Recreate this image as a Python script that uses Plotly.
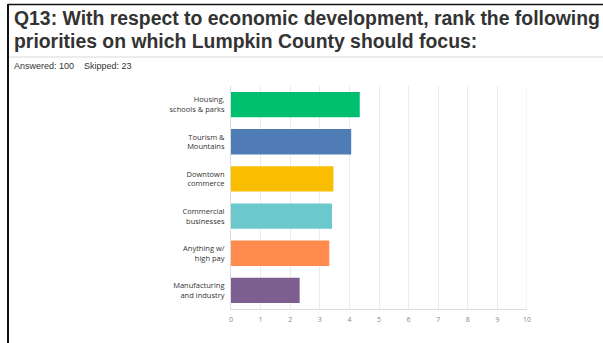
import plotly.graph_objects as go

# Survey results: average ranking score per priority
categories = [
    "Housing,<br>schools & parks",
    "Tourism &<br>Mountains",
    "Downtown<br>commerce",
    "Commercial<br>businesses",
    "Anything w/<br>high pay",
    "Manufacturing<br>and industry",
]
scores = [4.35, 4.06, 3.46, 3.41, 3.32, 2.32]
bar_colors = ["#00BF6F", "#507CB6", "#F9BE00", "#6BC8CD", "#FF8B4F", "#7D5E90"]
x_ticks = list(range(0, 11))

W, H = 603, 343
L, R, T, B = 231, 76, 86, 34
pw, ph = W - L - R, H - T - B


def px_x(px):
    return (px - L) / pw


def px_y(py):
    return (H - B - py) / ph


fig = go.Figure(
    go.Bar(
        x=scores,
        y=categories,
        orientation="h",
        marker=dict(color=bar_colors, line=dict(width=0)),
        hoverinfo="skip",
    )
)

fig.update_layout(
    width=W,
    height=H,
    margin=dict(l=L, r=R, t=T, b=B),
    paper_bgcolor="white",
    plot_bgcolor="white",
    bargap=0.32,
    showlegend=False,
    xaxis=dict(
        range=[0, 10],
        tickvals=x_ticks,
        showgrid=True,
        gridcolor="#ebebeb",
        gridwidth=1,
        zeroline=False,
        showline=True,
        linecolor="#dcdcdc",
        linewidth=1,
        ticks="",
        ticklabelstandoff=4,
        tickfont=dict(family="Open Sans", size=7, color="#888888"),
        fixedrange=True,
    ),
    yaxis=dict(
        categoryorder="array",
        categoryarray=categories[::-1],
        showgrid=False,
        zeroline=False,
        showline=True,
        linecolor="#dcdcdc",
        linewidth=1,
        ticks="",
        ticklabelstandoff=4,
        tickfont=dict(family="Open Sans", size=7.5, color="#333333"),
        fixedrange=True,
    ),
    annotations=[
        dict(
            text="<b>Q13: With respect to economic development, rank the following</b>",
            xref="paper", yref="paper",
            x=px_x(12), y=px_y(18),
            xanchor="left", yanchor="middle",
            showarrow=False,
            font=dict(family="Liberation Sans", size=19.4, color="#333333"),
        ),
        dict(
            text="<b>priorities on which Lumpkin County should focus:</b>",
            xref="paper", yref="paper",
            x=px_x(12), y=px_y(41),
            xanchor="left", yanchor="middle",
            showarrow=False,
            font=dict(family="Liberation Sans", size=19.4, color="#333333"),
        ),
        dict(
            text="Answered: 100&nbsp;&nbsp;&nbsp; Skipped: 23",
            xref="paper", yref="paper",
            x=px_x(12), y=px_y(66),
            xanchor="left", yanchor="middle",
            showarrow=False,
            font=dict(family="Liberation Sans", size=9, color="#333333"),
        ),
    ],
    shapes=[
        # frame: top and left edges
        dict(type="line", xref="paper", yref="paper",
             x0=px_x(8), x1=px_x(603), y0=px_y(4.5), y1=px_y(4.5),
             line=dict(color="#111111", width=1.5)),
        dict(type="line", xref="paper", yref="paper",
             x0=px_x(8), x1=px_x(8), y0=px_y(4), y1=px_y(343),
             line=dict(color="#111111", width=2)),
        # separator under the heading
        dict(type="line", xref="paper", yref="paper",
             x0=px_x(9), x1=px_x(603), y0=px_y(57), y1=px_y(57),
             line=dict(color="#d9d9d9", width=1)),
        # right edge of the grid
        dict(type="line", xref="x", yref="paper",
             x0=10, x1=10, y0=0, y1=1,
             line=dict(color="#ebebeb", width=1)),
    ],
)

fig.write_html("out.html")
